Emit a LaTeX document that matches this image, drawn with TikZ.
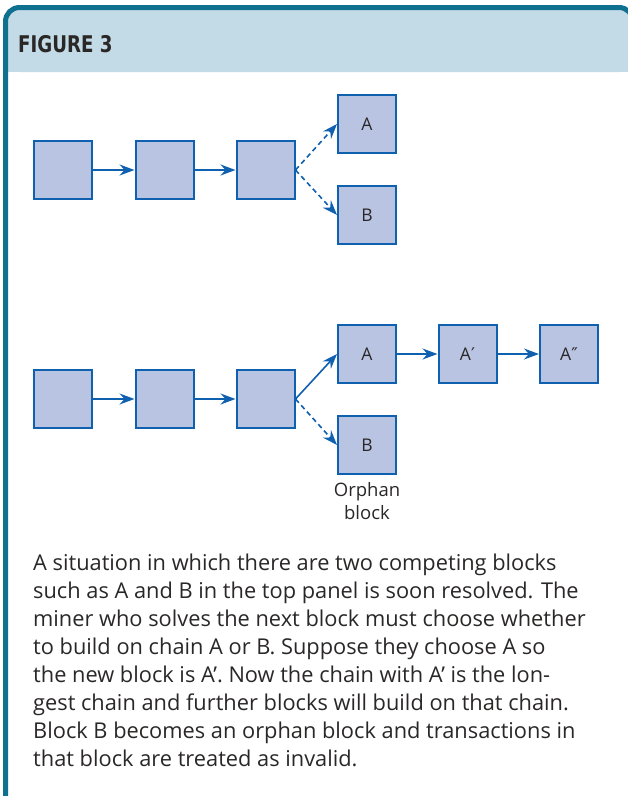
\documentclass[tikz,border=0pt]{standalone}
\usepackage{fontspec}
\setmainfont{Open Sans}
\newfontfamily\headfont{DejaVu Sans Condensed}
\newfontfamily\primefont{DejaVu Sans}
\usetikzlibrary{arrows.meta}
\definecolor{framec}{HTML}{10708F}
\definecolor{headbg}{HTML}{C3DBE6}
\definecolor{blueln}{HTML}{1060B0}
\definecolor{blockfill}{HTML}{B9C3E2}
\definecolor{txt}{HTML}{2A2727}
\tikzset{
  blk/.style={draw=blueln, line width=2pt, fill=blockfill, minimum size=58pt, inner sep=0pt,
    text=txt, font=\fontsize{17.5}{20}\selectfont},
  conn/.style={draw=blueln, line width=1.6pt, -{Stealth[length=15pt,width=11pt,inset=5pt]}},
  dconn/.style={conn, dash pattern=on 5pt off 3.5pt},
}
\begin{document}
\begin{tikzpicture}[x=1pt,y=-1pt]
\useasboundingbox (0,0) rectangle (628,796);
\clip (0,0) rectangle (628,796);
\fill[headbg, rounded corners=14pt] (5.5,7.5) rectangle (633,72) [sharp corners];
\fill[headbg] (5.5,40) rectangle (633,72);
\draw[framec, line width=5pt, rounded corners=14pt] (5.5,830) -- (5.5,7.5) -- (633,7.5) -- (633,830);
\node[anchor=base west, inner sep=0pt, text=txt, xscale=0.88, font=\headfont\bfseries\fontsize{23}{23}\selectfont] (title) at (18,52) {FIGURE 3};
% top panel
\node[blk] (t1) at (63,170) {};
\node[blk] (t2) at (164.5,170) {};
\node[blk] (t3) at (265.5,170) {};
\node[blk] (tA) at (367,124) {A};
\node[blk] (tB) at (367,215) {B};
\draw[conn] (t1) -- (t2);
\draw[conn] (t2) -- (t3);
\draw[dconn] (t3.east) -- (tA.west);
\draw[dconn] (t3.east) -- (tB.west);
% bottom panel
\node[blk] (b1) at (63,399) {};
\node[blk] (b2) at (164.5,399) {};
\node[blk] (b3) at (265.5,399) {};
\node[blk] (bA) at (367,354) {A};
\node[blk] (bA1) at (467.5,354) {A{\primefont ′}};
\node[blk] (bA2) at (569,354) {A{\primefont ″}};
\node[blk] (bB) at (367,445) {B};
\draw[conn] (b1) -- (b2);
\draw[conn] (b2) -- (b3);
\draw[conn] (b3.east) -- (bA.west);
\draw[dconn] (b3.east) -- (bB.west);
\draw[conn] (bA) -- (bA1);
\draw[conn] (bA1) -- (bA2);
\node[align=center, text=txt, inner sep=0pt, font=\fontsize{18.5}{23}\selectfont, anchor=north] (orph) at (367,482) {Orphan\\block};
% caption
\node[anchor=base west, align=left, inner sep=0pt, text=txt, font=\fontsize{21.8}{28}\selectfont] (cap) at (33,766)
{A situation in which there are two competing blocks\\
such as A and B in the top panel is soon resolved. The\\
miner who solves the next block must choose whether\\
to build on chain A or B. Suppose they choose A so\\
the new block is A’. Now the chain with A’ is the lon-\\
gest chain and further blocks will build on that chain.\\
Block B becomes an orphan block and transactions in\\
that block are treated as invalid.};
\end{tikzpicture}
\end{document}
